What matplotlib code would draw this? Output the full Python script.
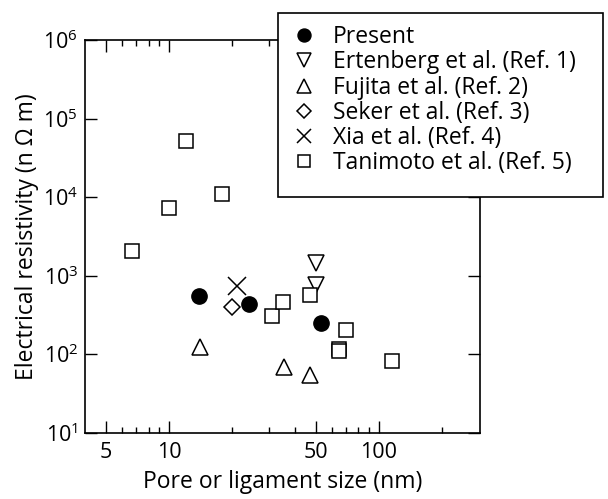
import matplotlib
matplotlib.use("Agg")
import matplotlib.pyplot as plt
from matplotlib.patches import Rectangle
from matplotlib.ticker import FixedLocator, FixedFormatter, NullFormatter

plt.rcParams["font.family"] = ["Open Sans", "DejaVu Sans"]
plt.rcParams["mathtext.fontset"] = "custom"
plt.rcParams["mathtext.rm"] = "Open Sans"

# data (x: nm, y: n Ohm m)
present_x = [13.9, 24.0, 53.0]
present_y = [556, 433, 250]

ertenberg_x = [50.3, 50.3]
ertenberg_y = [1430, 768]

fujita_x = [14.0, 35.2, 47.1]
fujita_y = [123, 68, 55]

seker_x = [20.0]
seker_y = [400]

xia_x = [21.0]
xia_y = [735]

tanimoto_x = [6.7, 10.0, 12.0, 17.9, 30.9, 34.8, 47.0, 69.9, 65.0, 65.0, 116]
tanimoto_y = [2050, 7300, 52000, 10800, 308, 459, 565, 204, 118, 110, 81]

x_major = [5, 10, 50, 100]
x_minor = [6, 7, 8, 9, 20, 30, 40, 60, 70, 80, 90, 200]
y_major = [1e1, 1e2, 1e3, 1e4, 1e5, 1e6]
y_labels = [r"$\mathregular{10^{%d}}$" % k for k in range(1, 7)]

W, H = 608, 499
fig = plt.figure(figsize=(W / 100, H / 100), dpi=100)
ax = fig.add_axes([85 / W, 1 - 432.7 / H, (480 - 85) / W, (432.7 - 40) / H])

ax.set_xscale("log")
ax.set_yscale("log")
ax.set_xlim(3.98, 304)
ax.set_ylim(1e1, 1e6)

ax.plot(present_x, present_y, "o", ms=11, mfc="black", mec="black", ls="none", label="Present")
ax.plot(ertenberg_x, ertenberg_y, "v", ms=12, mfc="white", mec="black", mew=1.1, ls="none",
        label="Ertenberg et al. (Ref. 1)")
ax.plot(fujita_x, fujita_y, "^", ms=12, mfc="white", mec="black", mew=1.1, ls="none",
        label="Fujita et al. (Ref. 2)")
ax.plot(seker_x, seker_y, "D", ms=8.5, mfc="white", mec="black", mew=1.1, ls="none",
        label="Seker et al. (Ref. 3)")
ax.plot(xia_x, xia_y, "x", ms=12.5, mec="black", mew=1.1, ls="none",
        label="Xia et al. (Ref. 4)")
ax.plot(tanimoto_x, tanimoto_y, "s", ms=10.5, mfc="white", mec="black", mew=1.1, ls="none",
        label="Tanimoto et al. (Ref. 5)")

ax.xaxis.set_major_locator(FixedLocator(x_major))
ax.xaxis.set_major_formatter(FixedFormatter([str(v) for v in x_major]))
ax.xaxis.set_minor_locator(FixedLocator(x_minor))
ax.xaxis.set_minor_formatter(NullFormatter())
ax.yaxis.set_major_locator(FixedLocator(y_major))
ax.yaxis.set_major_formatter(FixedFormatter(y_labels))
ax.yaxis.set_minor_locator(FixedLocator([]))

ax.tick_params(which="both", direction="in", top=True, right=True, labelsize=15.5, width=1)
ax.tick_params(which="major", length=8.5)
ax.tick_params(which="minor", length=4.5)
ax.tick_params(axis="x", pad=7)
ax.tick_params(axis="y", pad=5)
for sp in ax.spines.values():
    sp.set_linewidth(1.2)

ax.set_xlabel("Pore or ligament size (nm)", fontsize=16.5, labelpad=5)
ax.set_ylabel("Electrical resistivity (n Ω m)", fontsize=16.5, labelpad=3)

# legend frame sticks out past the axes, drawn as its own box
frame = Rectangle((278 / W, 1 - 196.7 / H), 325 / W, 184 / H, transform=fig.transFigure,
                  facecolor="white", edgecolor="black", linewidth=1.2, zorder=5)
fig.add_artist(frame)

leg = fig.legend(loc="upper left", bbox_to_anchor=(278 / W, 1 - 12.7 / H),
                 bbox_transform=fig.transFigure, borderaxespad=0, fontsize=16.5,
                 frameon=False, markerscale=0.85,
                 handlelength=1.15, handletextpad=0.7, borderpad=0.55, labelspacing=0.05)
leg.set_zorder(10)

fig.savefig("out.png", dpi=100)
